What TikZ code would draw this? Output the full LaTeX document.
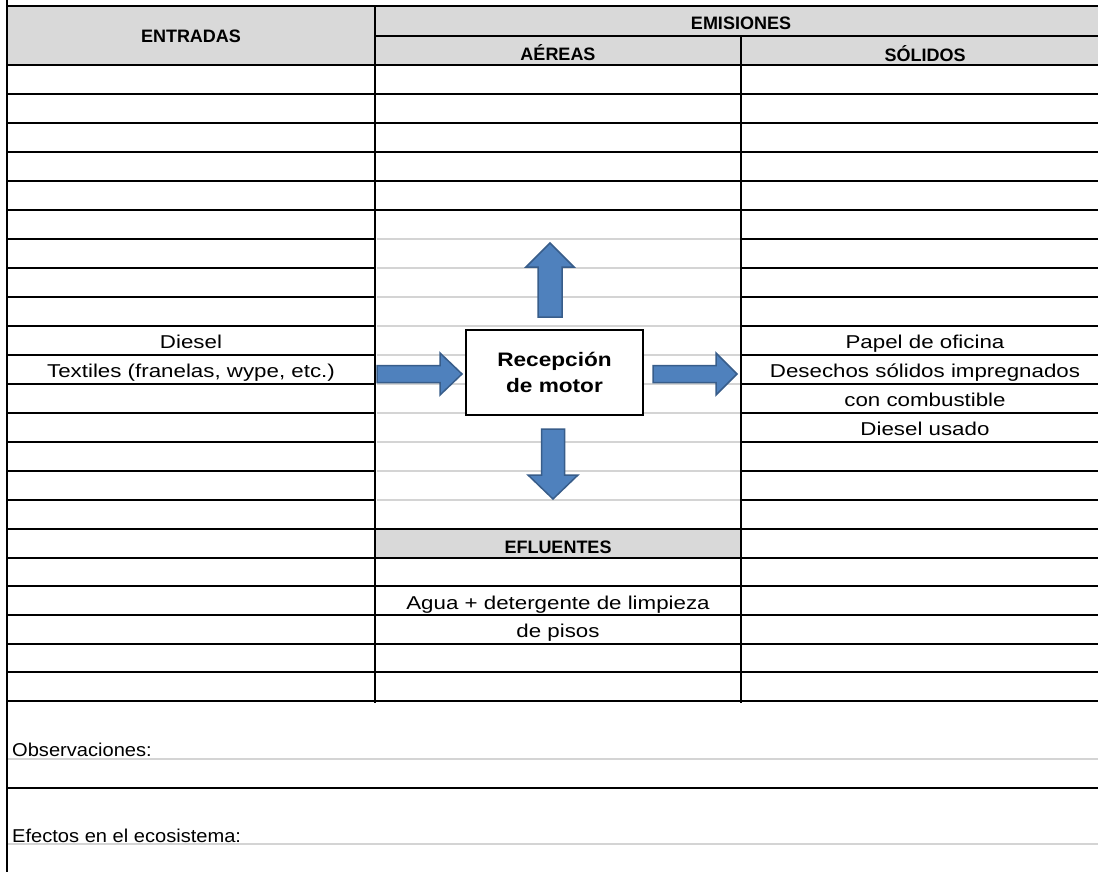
\documentclass[tikz,border=0pt]{standalone}
\usepackage{fontspec}
\setmainfont{Liberation Sans}
\newfontfamily\bodyfont[FakeStretch=1.2]{Liberation Sans}
\newfontfamily\boxfont[FakeStretch=1.16]{Liberation Sans}
\newfontfamily\obsfont[FakeStretch=1.08]{Liberation Sans}
\definecolor{hdrgrey}{HTML}{D9D9D9}
\definecolor{gridgrey}{HTML}{D4D4D4}
\definecolor{arrowblue}{HTML}{4F81BD}
\definecolor{arrowedge}{HTML}{385D8A}
\begin{document}
\begin{tikzpicture}[x=1pt,y=-1pt,
 rowline/.style={line width=2pt, black},
 thickline/.style={line width=2.7pt, black},
 greyline/.style={line width=1.3pt, color=gridgrey},
 hdr/.style={font=\fontsize{18}{20}\selectfont\bfseries, anchor=base, inner sep=0pt},
 body/.style={font=\fontsize{18.6}{22}\bodyfont, anchor=base, inner sep=0pt},
 obs/.style={font=\fontsize{18.6}{22}\obsfont, anchor=base west, inner sep=0pt},
 procbox/.style={draw, line width=2.7pt, fill=white, minimum width=177pt, minimum height=85pt, align=center, inner sep=0pt, font=\fontsize{19.5}{26}\boxfont\bfseries},
 blockarrow/.style={fill=arrowblue, draw=arrowedge, line width=1.5pt, line join=miter}
]
\useasboundingbox (0,0) rectangle (1098,872);
\fill[white] (0,0) rectangle (1098,872);
% header fills
\fill[hdrgrey] (7,6) rectangle (1098,65);
\fill[hdrgrey] (375,529) rectangle (741,558);
% row lines
\foreach \yy in {94,123,152,181,239,268,297,326,355,384,413,442,471,500,558,586,615,644,672}{
  \draw[rowline] (7,\yy) -- (375,\yy);
  \draw[rowline] (741,\yy) -- (1098,\yy);
}
\foreach \yy in {94,123,152,181,558,586,615,644,672}{
  \draw[rowline] (375,\yy) -- (741,\yy);
}
\foreach \yy in {239,268,297,326,355,384,413,442,471,500}{
  \draw[greyline] (376.5,\yy) -- (739.5,\yy);
}
\draw[rowline] (7,210) -- (1098,210);
\draw[rowline] (7,529) -- (1098,529);
\draw[thickline] (7,65) -- (1098,65);
\draw[thickline] (7,701) -- (1098,701);
\draw[thickline] (7,6) -- (1098,6);
\draw[rowline] (375,36) -- (1098,36);
% vertical lines
\draw[rowline] (7,0) -- (7,872);
\draw[thickline] (375,6) -- (375,703);
\draw[thickline] (741,36) -- (741,703);
% bottom section
\draw[greyline] (8,759) -- (1098,759);
\draw[greyline] (8,844) -- (1098,844);
\draw[rowline] (7,788) -- (1098,788);
% process box
\node[procbox] (proc) at (554.5,372.5) {Recepción\\de motor};
% block arrows
\draw[blockarrow] (377,365.5) -- (440,365.5) -- (440,353) -- (462,374) -- (440,395) -- (440,382.5) -- (377,382.5) -- cycle;
\draw[blockarrow] (653,365.5) -- (716,365.5) -- (716,353) -- (737,374) -- (716,395) -- (716,382.5) -- (653,382.5) -- cycle;
\draw[blockarrow] (538,317) -- (538,267) -- (526,267) -- (550,243) -- (574,267) -- (562,267) -- (562,317) -- cycle;
\draw[blockarrow] (541.5,429) -- (541.5,475) -- (528,475) -- (553,499) -- (578,475) -- (564.5,475) -- (564.5,429) -- cycle;
% header texts
\node[hdr] (entradas) at (191,43) {ENTRADAS};
\node[hdr] (emisiones) at (741,30) {EMISIONES};
\node[hdr] (aereas) at (558,61) {AÉREAS};
\node[hdr] (solidos) at (925,62) {SÓLIDOS};
\node[hdr] (efluentes) at (558,553) {EFLUENTES};
% body texts
\node[body] (diesel) at (191,348) {Diesel};
\node[body] (textiles) at (191,377) {Textiles (franelas, wype, etc.)};
\node[body] (papel) at (925,348) {Papel de oficina};
\node[body] (desechos) at (925,377) {Desechos sólidos impregnados};
\node[body] (comb) at (925,406) {con combustible};
\node[body] (dusado) at (925,435) {Diesel usado};
\node[body] (agua) at (558,609) {Agua + detergente de limpieza};
\node[body] (pisos) at (558,637) {de pisos};
\node[obs] (observ) at (12,756) {Observaciones:};
\node[obs] (efectos) at (12,842) {Efectos en el ecosistema:};
\end{tikzpicture}
\end{document}
